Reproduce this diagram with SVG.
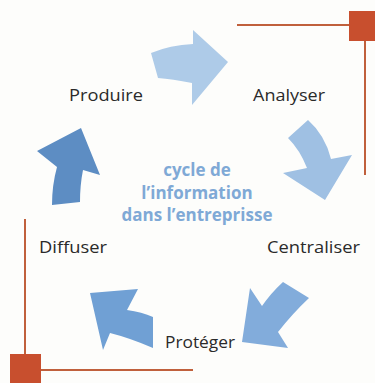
<svg xmlns="http://www.w3.org/2000/svg" width="375" height="383" viewBox="0 0 375 383">
<style>
.lbl{font-family:"Open Sans","Liberation Sans",sans-serif;font-size:16.5px;fill:#2a2a2a}
.ctr{font-family:"Open Sans","Liberation Sans",sans-serif;font-size:17px;font-weight:bold;fill:#7fa9d6;text-anchor:middle}
.deco{stroke:#c0603c;stroke-width:2;fill:none}
.sq{fill:#c84f2e}
</style>
<rect width="375" height="383" fill="#fdfdfb"/>
<g id="decoration">
<line class="deco" x1="237" y1="25" x2="352" y2="25"/>
<line class="deco" x1="365" y1="40" x2="365" y2="175"/>
<rect class="sq" x="349" y="11" width="28" height="30"/>
<line class="deco" x1="25" y1="219" x2="25" y2="356"/>
<line class="deco" x1="40" y1="370" x2="193" y2="370"/>
<rect class="sq" x="10" y="354" width="31" height="31"/>
</g>
<g id="connectors">
<path id="a1" d="M151,53 Q170,45 193,44 L193,30 L228,62 L192,105 L192,83 Q172,79 158,78 Z" fill="#aecbe8"/>
<path id="a2" d="M308,120 Q325,135 331,159 L352,155 L325,200 L283,173 L307,168 Q300,150 288,138 Z" fill="#9fc0e3"/>
<path id="a3" d="M283,282 Q271,293 262,306 L250,288 L242,342 L288,348 L278,332 Q293,313 309,298 Z" fill="#82acdb"/>
<path id="a4" d="M90,293 L138,289 L127,310 Q142,312 153,317 L153,348 Q130,338 110,333 L103,350 Z" fill="#70a0d4"/>
<path id="a5" d="M81,128 L100,175 L83,170 Q80,185 80,202 L52,205 Q52,185 57,167 L37,151 Z" fill="#5d8dc3"/>
</g>
<g id="center"><text class="ctr" x="197" y="176">cycle de</text><text class="ctr" x="197" y="199">l’information</text><text class="ctr" x="197" y="221">dans l’entreprisse</text></g>
<g id="produire"><text class="lbl" x="69" y="101" textLength="74" lengthAdjust="spacingAndGlyphs">Produire</text></g>
<g id="analyser"><text class="lbl" x="253" y="101" textLength="72" lengthAdjust="spacingAndGlyphs">Analyser</text></g>
<g id="centraliser"><text class="lbl" x="267" y="253" textLength="93" lengthAdjust="spacingAndGlyphs">Centraliser</text></g>
<g id="proteger"><text class="lbl" x="165" y="348" textLength="70" lengthAdjust="spacingAndGlyphs">Protéger</text></g>
<g id="diffuser"><text class="lbl" x="39" y="253" textLength="68" lengthAdjust="spacingAndGlyphs">Diffuser</text></g>
</svg>
